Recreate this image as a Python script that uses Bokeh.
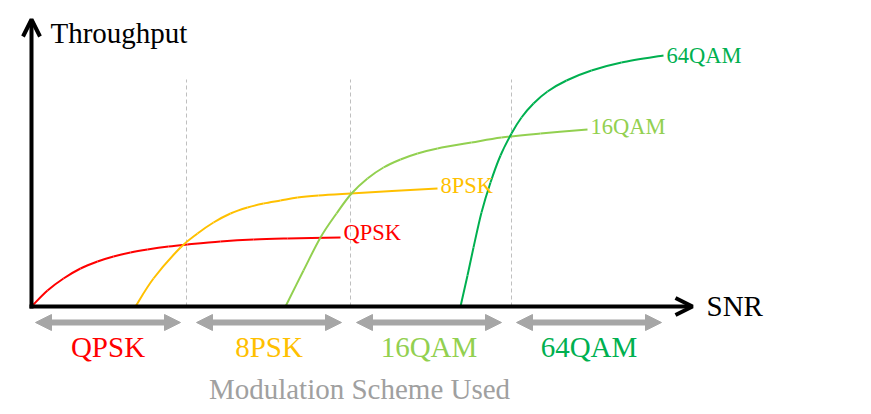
from bokeh.plotting import figure
from bokeh.models import Range1d, Arrow, OpenHead, NormalHead, ColumnDataSource
from bokeh.embed import file_html
from bokeh.resources import INLINE
from bokeh.core.properties import value

# ---- data (SNR on x, throughput on y, arbitrary units) ----
schemes = ["QPSK", "8PSK", "16QAM", "64QAM"]
colors = ["#FF0000", "#FFC000", "#92D050", "#00B050"]

qpsk_snr = [0, 16, 32, 49, 66, 82, 99, 116, 137, 156, 189, 222, 256, 309]
qpsk_tp = [0, 16, 28, 38, 45, 50, 54, 57, 60, 62, 65, 67, 68, 69]

psk8_snr = [104, 122, 149, 166, 182, 199, 216, 232, 249, 266, 287, 319, 406]
psk8_tp = [0, 28, 59, 73, 84, 93, 99, 103, 106, 109, 111, 113, 118]

qam16_snr = [254, 272, 289, 305, 320, 336, 352, 369, 386, 406, 440, 470, 509, 556]
qam16_tp = [0, 36, 69, 93, 113, 128, 139, 147, 153, 158, 164, 169, 173, 177]

qam64_snr = [429, 436, 442, 450, 459, 469, 480, 490, 502, 516, 535, 560, 590, 632]
qam64_tp = [0, 31, 59, 94, 124, 151, 173, 189, 203, 215, 226, 236, 244, 251]

boundaries = [155, 319, 480]          # SNR where the scheme switches
boundary_top = 227
region_start = [4, 165, 325, 485]
region_end = [149, 310, 470, 630]
region_level = -16
x_axis_end = 661
y_axis_end = 287

FONT = value("Liberation Serif")

p = figure(width=871, height=414, x_range=Range1d(-31, 840), y_range=Range1d(-108, 306),
           output_backend="svg", toolbar_location=None, min_border=0,
           x_axis_type=None, y_axis_type=None)
p.grid.visible = False
p.outline_line_color = None
p.background_fill_color = "white"
p.border_fill_color = "white"

# dashed boundary lines
for b in boundaries:
    p.line([b, b], [0, boundary_top], line_color="#BFBFBF", line_width=1, line_dash="4 3")


def smooth_segments(xs, ys):
    """Cubic Bezier segments through the read points (Catmull-Rom style smoothing)."""
    n = len(xs)
    seg = dict(x0=[], y0=[], x1=[], y1=[], cx0=[], cy0=[], cx1=[], cy1=[])
    for i in range(n - 1):
        xp, yp = (xs[i - 1], ys[i - 1]) if i > 0 else (xs[i], ys[i])
        xn, yn = (xs[i + 2], ys[i + 2]) if i + 2 < n else (xs[i + 1], ys[i + 1])
        seg["x0"].append(xs[i]); seg["y0"].append(ys[i])
        seg["x1"].append(xs[i + 1]); seg["y1"].append(ys[i + 1])
        seg["cx0"].append(xs[i] + (xs[i + 1] - xp) / 6); seg["cy0"].append(ys[i] + (ys[i + 1] - yp) / 6)
        seg["cx1"].append(xs[i + 1] - (xn - xs[i]) / 6); seg["cy1"].append(ys[i + 1] - (yn - ys[i]) / 6)
    return ColumnDataSource(seg)


# throughput curves
curves = [(qpsk_snr, qpsk_tp), (psk8_snr, psk8_tp), (qam16_snr, qam16_tp), (qam64_snr, qam64_tp)]
for (xs, ys), c in zip(curves, colors):
    p.bezier(x0="x0", y0="y0", x1="x1", y1="y1", cx0="cx0", cy0="cy0", cx1="cx1", cy1="cy1",
             source=smooth_segments(xs, ys), line_color=c, line_width=2)

# curve end labels
lab = ColumnDataSource(dict(x=[c[0][-1] for c in curves], y=[c[1][-1] for c in curves],
                            text=schemes, color=colors, dy=[-5, -3, -3, 0]))
p.text(x="x", y="y", text="text", source=lab, text_color="color", text_font=FONT,
       text_font_size="22.5px", text_baseline="middle", text_align="left", x_offset=3, y_offset="dy")

# axes with arrow heads
p.add_layout(Arrow(end=OpenHead(size=17, line_width=4, line_color="black"),
                   x_start=-2, y_start=0, x_end=x_axis_end, y_end=0,
                   line_width=4, line_color="black"))
p.add_layout(Arrow(end=OpenHead(size=17, line_width=4, line_color="black"),
                   x_start=0, y_start=-2, x_end=0, y_end=y_axis_end,
                   line_width=4, line_color="black"))

p.text(x=[19], y=[274], text=["Throughput"], text_font=FONT, text_font_size="29px",
       text_color="black", text_baseline="middle", text_align="left")
p.text(x=[675], y=[1], text=["SNR"], text_font=FONT, text_font_size="29px",
       text_color="black", text_baseline="middle", text_align="left")

# double-headed range arrows below the axis
for s, e in zip(region_start, region_end):
    p.add_layout(Arrow(start=NormalHead(size=16, fill_color="#A6A6A6", line_color="#A6A6A6", line_width=1),
                       end=NormalHead(size=16, fill_color="#A6A6A6", line_color="#A6A6A6", line_width=1),
                       x_start=s, y_start=region_level, x_end=e, y_end=region_level,
                       line_width=6, line_color="#A6A6A6"))

mids = [(s + e) / 2 for s, e in zip(region_start, region_end)]
bl = ColumnDataSource(dict(x=mids, y=[-40] * 4, text=schemes, color=colors))
p.text(x="x", y="y", text="text", source=bl, text_color="color", text_font=FONT,
       text_font_size="29px", text_baseline="middle", text_align="center")

p.text(x=[328], y=[-82.5], text=["Modulation Scheme Used"], text_font=FONT, text_font_size="29px",
       text_color="#A0A0A0", text_baseline="middle", text_align="center")

open("out.html", "w").write(file_html(p, INLINE))
